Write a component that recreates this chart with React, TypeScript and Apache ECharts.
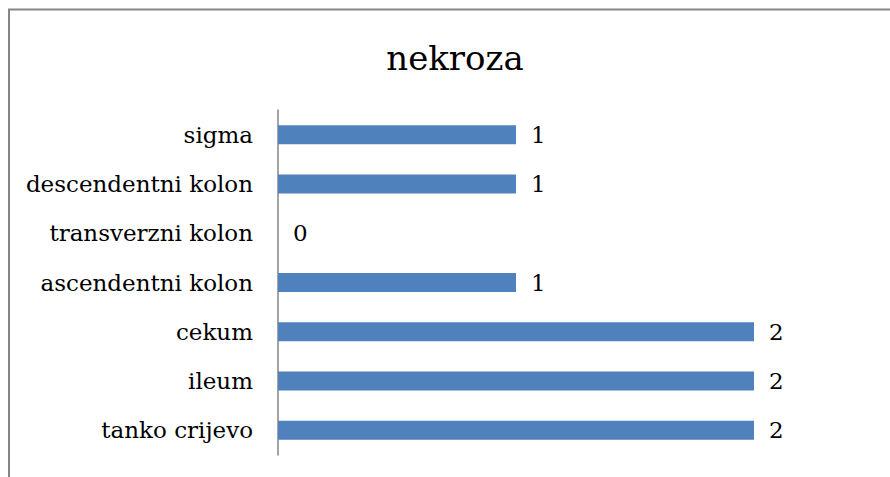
import React, { useEffect, useRef } from "react";
import * as echarts from "echarts";

const categories = [
  "tanko crijevo",
  "ileum",
  "cekum",
  "ascendentni kolon",
  "transverzni kolon",
  "descendentni kolon",
  "sigma",
];
const values = [2, 2, 2, 1, 0, 1, 1];
const titleText = "nekroza";

const FONT = "DejaVu Serif";

export default function App() {
  const ref = useRef<HTMLDivElement>(null);
  useEffect(() => {
    if (!ref.current) return;
    const chart = echarts.init(ref.current, undefined, { renderer: "svg" });
    chart.setOption({
      animation: false,
      backgroundColor: "#ffffff",
      textStyle: { fontFamily: FONT },
      graphic: [
        {
          type: "rect",
          shape: { x: 9, y: 9.5, width: 1000, height: 600 },
          style: { fill: "none", stroke: "#868686", lineWidth: 2 },
          z: 10,
        },
        {
          type: "text",
          x: 455,
          y: 58,
          style: {
            text: titleText,
            fontFamily: FONT,
            fontSize: 34,
            fill: "#000",
            textAlign: "center",
            textVerticalAlign: "middle",
          },
        },
      ],
      grid: { left: 278, top: 110, width: 476, height: 345, containLabel: false },
      xAxis: {
        type: "value",
        min: 0,
        max: 2,
        show: false,
        splitLine: { show: false },
      },
      yAxis: {
        type: "category",
        data: categories,
        axisLine: { show: true, lineStyle: { color: "#868686", width: 1.5 } },
        axisTick: { show: false },
        axisLabel: {
          color: "#000",
          fontFamily: FONT,
          fontSize: 23,
          margin: 25,
        },
      },
      series: [
        {
          type: "bar",
          data: values,
          barWidth: 19,
          itemStyle: { color: "#4F81BD" },
          label: {
            show: true,
            position: "right",
            distance: 15,
            color: "#000",
            fontFamily: FONT,
            fontSize: 23,
          },
        },
      ],
    });
    return () => chart.dispose();
  }, []);
  return (
    <div
      ref={ref}
      style={{ position: "fixed", left: 0, top: 0, width: 890, height: 477, background: "#fff" }}
    />
  );
}
